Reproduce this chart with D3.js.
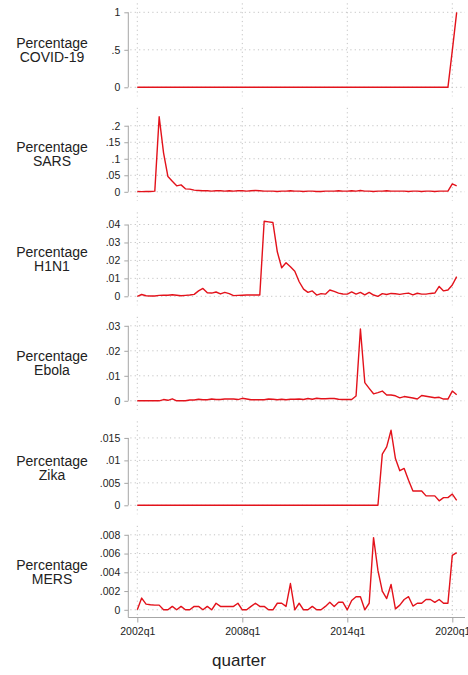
<!DOCTYPE html>
<html>
<head>
<meta charset="utf-8">
<script src="https://cdn.jsdelivr.net/npm/d3@7"></script>
<style>
  html, body { margin: 0; padding: 0; background: #fff; }
  svg { display: block; font-family: "Liberation Sans", Arial, sans-serif; }
</style>
</head>
<body>
<svg id="chart" width="468" height="675"></svg>
<script>
// ---- DATA ----
// quarters 2002q1 .. 2020q2 (74 quarters)
const quarters = [];
for (let y = 2002; y <= 2020; y++) for (let q = 1; q <= 4; q++) {
  if (y === 2020 && q > 2) break;
  quarters.push(y + "q" + q);
}
const xTickLabels = ["2002q1", "2008q1", "2014q1", "2020q1"];

const panelNames = ["COVID-19", "SARS", "H1N1", "Ebola", "Zika", "MERS"];

const covid = [
  0,0,0,0,0,0,0,0,0,0,0,0,0,0,0,0,0,0,0,0,0,0,0,0,
  0,0,0,0,0,0,0,0,0,0,0,0,0,0,0,0,0,0,0,0,0,0,0,0,
  0,0,0,0,0,0,0,0,0,0,0,0,0,0,0,0,0,0,0,0,0,0,0,0,
  0.49,1
];
const sars = [
  0.001,0.0005,0.0008,0.001,0.002,0.227,0.118,0.046,0.032,0.018,0.021,0.009,
  0.008,0.005,0.004,0.003,0.003,0.002,0.003,0.003,0.002,0.003,0.002,0.003,
  0.003,0.002,0.003,0.004,0.003,0.002,0.002,0.002,0.001,0.002,0.002,0.003,
  0.002,0.002,0.001,0.002,0.002,0.001,0.001,0.002,0.002,0.002,0.003,0.002,
  0.002,0.003,0.002,0.004,0.002,0.002,0.001,0.002,0.002,0.003,0.002,0.002,
  0.002,0.002,0.001,0.002,0.002,0.001,0.002,0.002,0.001,0.002,0.002,0.002,
  0.024,0.018
];
const h1n1 = [
  0,0.001,0.0003,0.0002,0.0002,0.0005,0.0006,0.0006,0.0009,0.0006,0.0003,0.0005,
  0.0007,0.0011,0.003,0.0044,0.002,0.0018,0.0024,0.0013,0.0022,0.0015,0.0004,0.0005,
  0.0006,0.0007,0.0007,0.0007,0.0007,0.0418,0.0415,0.0411,0.0248,0.0159,0.0187,0.0165,
  0.014,0.0081,0.004,0.0022,0.003,0.0007,0.0015,0.0012,0.0035,0.0027,0.0018,0.0013,
  0.0012,0.0024,0.0012,0.0022,0.0008,0.0022,0.0007,0,0.0015,0.001,0.0016,0.0014,
  0.0011,0.0015,0.0018,0.0008,0.0017,0.0012,0.0012,0.0016,0.0018,0.0055,0.003,0.0035,
  0.0063,0.011
];
const ebola = [
  0,0,0,0,0,0,0.0005,0.0002,0.0008,0,0,0,
  0.0003,0.0003,0.0006,0.0004,0.0004,0.0007,0.0005,0.0005,0.0007,0.0007,0.0007,0.0005,
  0.001,0.0007,0.0004,0.0004,0.0004,0.0004,0.0007,0.0006,0.0004,0.0006,0.0004,0.0006,
  0.0006,0.0007,0.0005,0.0009,0.0006,0.001,0.0008,0.0008,0.0009,0.0009,0.0006,0.0005,
  0.0005,0.0005,0.0019,0.0287,0.0073,0.005,0.0028,0.0033,0.0039,0.0023,0.0023,0.002,
  0.0012,0.0017,0.0014,0.0011,0.0007,0.0021,0.0018,0.0015,0.0012,0.0014,0.0007,0.0007,
  0.0039,0.0024
];
const zika = [
  0,0,0,0,0,0,0,0,0,0,0,0,0,0,0,0,0,0,0,0,0,0,0,0,
  0,0,0,0,0,0,0,0,0,0,0,0,0,0,0,0,0,0,0,0,0,0,0,0,
  0,0,0,0,0,0,0,0,0.0114,0.013,0.0167,0.0104,0.0077,0.0082,
  0.0056,0.0032,0.0032,0.0032,0.0021,0.0021,0.0021,0.001,0.0017,0.0017,
  0.0025,0.0011
];
const mers = [
  0,0.00125,0.0006,0.00054,0.0005,0.0005,0,0,0.00036,0,0.00036,0,
  0,0.00036,0.00036,0,0.00036,0,0.0007,0.00036,0.00036,0.00036,0.00036,0.0007,
  0,0,0.00036,0.0007,0.00036,0.00036,0,0,0.0007,0.0007,0.00036,0.0028,
  0,0.0007,0,0,0.00036,0,0,0.00036,0.0008,0.00036,0.0008,0.0008,
  0,0.001,0.0014,0.0014,0,0.0007,0.0077,0.0042,0.002,0.0012,0.0027,0.0001,
  0.0005,0.0011,0.0014,0.0004,0.0007,0.0007,0.0011,0.0011,0.0008,0.0011,0.0007,0.0007,
  0.0058,0.0061
];
const seriesList = [covid, sars, h1n1, ebola, zika, mers];

const yTicks = [
  [0, 0.5, 1],
  [0, 0.05, 0.1, 0.15, 0.2],
  [0, 0.01, 0.02, 0.03, 0.04],
  [0, 0.01, 0.02, 0.03],
  [0, 0.005, 0.01, 0.015],
  [0, 0.002, 0.004, 0.006, 0.008]
];
const yTickLabels = [
  ["0", ".5", "1"],
  ["0", ".05", ".1", ".15", ".2"],
  ["0", ".01", ".02", ".03", ".04"],
  ["0", ".01", ".02", ".03"],
  ["0", ".005", ".01", ".015"],
  ["0", ".002", ".004", ".006", ".008"]
];

// ---- LAYOUT ----
const svg = d3.select("#chart");
const axisX = 128.3, plotRight = 465;
const firstZero = 87.3, panelStep = 104.5, dataH = 75;
const lineColor = "#e3121b", axisColor = "#a6a6a6", gridColor = "#c4c4c4";
const textColor = "#222";

const x = d3.scaleLinear().domain([0, quarters.length - 1])
  .range([137.3, 137.3 + 4.375 * (quarters.length - 1)]);
const xTickIdx = xTickLabels.map(l => quarters.indexOf(l));

seriesList.forEach((data, k) => {
  const zero = firstZero + k * panelStep;
  const ticks = yTicks[k];
  const top = Math.max(d3.max(data), d3.max(ticks));
  const y = d3.scaleLinear().domain([0, top]).range([zero, zero - dataH]);
  const isLast = k === seriesList.length - 1;
  const regTop = zero - 84, regBot = isLast ? zero + 7.7 : zero + 9;
  const g = svg.append("g");

  // vertical grid
  g.selectAll(".vg").data(xTickIdx).enter().append("line")
    .attr("x1", d => x(d)).attr("x2", d => x(d))
    .attr("y1", regTop).attr("y2", regBot)
    .attr("stroke", gridColor).attr("stroke-width", 1)
    .attr("stroke-dasharray", "1.2,3.2");
  // horizontal grid
  g.selectAll(".hg").data(ticks).enter().append("line")
    .attr("x1", axisX + 2).attr("x2", plotRight)
    .attr("y1", d => y(d)).attr("y2", d => y(d))
    .attr("stroke", gridColor).attr("stroke-width", 1)
    .attr("stroke-dasharray", "1.2,3.2");

  // y axis
  const yAxis = d3.axisLeft(y).tickValues(ticks)
    .tickFormat((d, i) => yTickLabels[k][i]).tickSize(4).tickPadding(4);
  const ya = g.append("g").attr("transform", `translate(${axisX},0)`).call(yAxis);
  ya.select(".domain").remove();
  ya.selectAll(".tick line").attr("stroke", axisColor).attr("stroke-width", 1);
  ya.selectAll(".tick text").attr("fill", textColor)
    .style("font-size", "10.5px").style("font-family", "'Liberation Sans', Arial, sans-serif");
  g.append("line").attr("x1", axisX).attr("x2", axisX)
    .attr("y1", y(ticks[ticks.length - 1])).attr("y2", isLast ? zero + 7.7 : zero)
    .attr("stroke", axisColor).attr("stroke-width", 1);

  // panel title
  const cy = zero - dataH / 2;
  const t = g.append("text").attr("text-anchor", "middle")
    .attr("fill", textColor).style("font-size", "14px");
  t.append("tspan").attr("x", 52).attr("y", cy - 2).text("Percentage");
  t.append("tspan").attr("x", 52).attr("y", cy + 12).text(panelNames[k]);

  // line
  const line = d3.line().x((d, i) => x(i)).y(d => y(d));
  g.append("path").datum(data).attr("d", line)
    .attr("fill", "none").attr("stroke", lineColor).attr("stroke-width", 1.4)
    .attr("stroke-linejoin", "round");

  if (isLast) {
    const xa = d3.axisBottom(x).tickValues(xTickIdx)
      .tickFormat((d, i) => xTickLabels[i]).tickSize(5).tickPadding(5).tickSizeOuter(0);
    const xg = g.append("g").attr("transform", `translate(0,${zero + 7.7})`).call(xa);
    xg.select(".domain").remove();
    xg.selectAll(".tick line").attr("stroke", axisColor);
    xg.selectAll(".tick text").attr("fill", textColor)
      .style("font-size", "10.5px").style("font-family", "'Liberation Sans', Arial, sans-serif");
    g.append("line").attr("x1", axisX).attr("x2", plotRight)
      .attr("y1", zero + 7.7).attr("y2", zero + 7.7)
      .attr("stroke", axisColor).attr("stroke-width", 1);
    svg.append("text").attr("x", 239).attr("y", 666).attr("text-anchor", "middle")
      .attr("fill", textColor).style("font-size", "17px").text("quarter");
  }
});
</script>
</body>
</html>
